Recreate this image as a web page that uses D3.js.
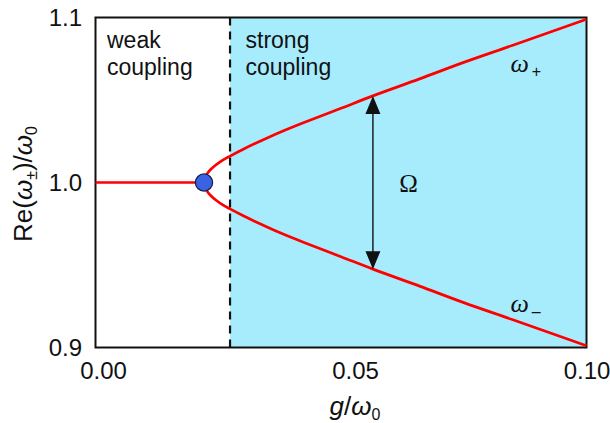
<!DOCTYPE html>
<html>
<head>
<meta charset="utf-8">
<script src="https://cdn.jsdelivr.net/npm/d3@7"></script>
<style>
  html, body { margin: 0; padding: 0; background: #fff; }
  svg { display: block; }
  text { font-family: "Liberation Sans", Arial, Helvetica, sans-serif; fill: #111; }
</style>
</head>
<body>
<svg id="chart" width="610" height="423"></svg>
<script>
// Coupling strength g/ω0 and real part of the eigenfrequencies Re(ω±)/ω0
const gWeak = [0.000, 0.0221];
const omegaWeak = [1.000, 1.000];

const gStrong    = [0.0221, 0.0223, 0.0228, 0.0235, 0.0245, 0.0260, 0.0274, 0.0300, 0.0335, 0.0376, 0.0430, 0.0500, 0.0565, 0.0660, 0.0750, 0.0850, 0.1000];
const omegaPlus  = [1.0000, 1.0030, 1.0056, 1.0080, 1.0106, 1.0137, 1.0160, 1.0200, 1.0250, 1.0305, 1.0370, 1.0450, 1.0525, 1.0628, 1.0728, 1.0832, 1.0990];
const omegaMinus = [1.0000, 0.9970, 0.9944, 0.9920, 0.9894, 0.9863, 0.9840, 0.9800, 0.9750, 0.9695, 0.9630, 0.9550, 0.9475, 0.9372, 0.9272, 0.9168, 0.9010];

// Exceptional point, weak/strong boundary and where the splitting Ω is marked
const exceptionalPoint = [0.0221, 1.000];
const strongBoundary = 0.0274;
const splittingAt = 0.0565;

const xTicks = [0.00, 0.05, 0.10];
const xTickLabels = ["0.00", "0.05", "0.10"];
const yTicks = [0.9, 1.0, 1.1];
const yTickLabels = ["0.9", "1.0", "1.1"];

const svg = d3.select("#chart");
const plot = { left: 95.5, right: 586.5, top: 17.5, bottom: 347.5 };

const x = d3.scaleLinear().domain([0, 0.10]).range([plot.left, plot.right]);
const y = d3.scaleLinear().domain([0.9, 1.1]).range([plot.bottom, plot.top]);

// Strong-coupling region
svg.append("rect")
  .attr("x", x(strongBoundary))
  .attr("y", y(1.1))
  .attr("width", x(0.10) - x(strongBoundary))
  .attr("height", y(0.9) - y(1.1))
  .attr("fill", "#a7ecfd");

// Boundary between weak and strong coupling
svg.append("line")
  .attr("x1", x(strongBoundary)).attr("x2", x(strongBoundary))
  .attr("y1", y(1.1)).attr("y2", y(0.9))
  .attr("stroke", "#111").attr("stroke-width", 2.2)
  .attr("stroke-dasharray", "8,6");

// Frame
svg.append("rect")
  .attr("x", plot.left).attr("y", plot.top)
  .attr("width", plot.right - plot.left).attr("height", plot.bottom - plot.top)
  .attr("fill", "none").attr("stroke", "#111").attr("stroke-width", 2);

// Tick labels
const xAxis = d3.axisBottom(x).tickValues(xTicks).tickSize(0)
  .tickFormat((d, i) => xTickLabels[i]);
const gx = svg.append("g").attr("transform", `translate(0,${plot.bottom})`).call(xAxis);
gx.select(".domain").remove();
const xNudge = [7.5, 14, 0];
gx.selectAll(".tick text")
  .attr("y", 31).attr("dy", 0)
  .attr("dx", (d, i) => xNudge[i])
  .style("font-size", "24px")
  .style("font-family", "Liberation Sans, Arial, sans-serif")
  .attr("fill", "#111");

const yAxis = d3.axisLeft(y).tickValues(yTicks).tickSize(0)
  .tickFormat((d, i) => yTickLabels[i]);
const gy = svg.append("g").attr("transform", `translate(${plot.left},0)`).call(yAxis);
gy.select(".domain").remove();
gy.selectAll(".tick text")
  .attr("x", -13.5).attr("dy", "0.35em")
  .style("font-size", "24px")
  .style("font-family", "Liberation Sans, Arial, sans-serif")
  .attr("fill", "#111");

// Region labels
function regionLabel(xPos, lines) {
  const t = svg.append("text").attr("x", xPos).attr("y", 48.3).style("font-size", "23px");
  lines.forEach((s, i) => t.append("tspan").attr("x", xPos).attr("dy", i ? 27 : 0).text(s));
}
regionLabel(107, ["weak", "coupling"]);
regionLabel(245.5, ["strong", "coupling"]);

// Eigenfrequency branches
const line = d3.line().x(d => x(d[0])).y(d => y(d[1]));
const weakPts = gWeak.map((g, i) => [g, omegaWeak[i]]);
const upperPts = gStrong.map((g, i) => [g, omegaPlus[i]]);
const lowerPts = gStrong.map((g, i) => [g, omegaMinus[i]]);
const branchPts = upperPts.slice().reverse().concat(lowerPts.slice(1));

svg.append("path").datum(weakPts)
  .attr("d", line)
  .attr("fill", "none").attr("stroke", "#f00").attr("stroke-width", 2.7);
svg.append("path").datum(branchPts)
  .attr("d", line.curve(d3.curveCatmullRom.alpha(0.5)))
  .attr("fill", "none").attr("stroke", "#f00").attr("stroke-width", 2.7)
  .attr("stroke-linejoin", "round");

// Exceptional point
svg.append("circle")
  .attr("cx", x(exceptionalPoint[0])).attr("cy", y(exceptionalPoint[1]))
  .attr("r", 8.6)
  .attr("fill", "#3a62e4").attr("stroke", "#14204a").attr("stroke-width", 1.3);

// Splitting arrow between the branches
const k = gStrong.indexOf(splittingAt);
const ax = x(splittingAt), aTop = y(omegaPlus[k]), aBot = y(omegaMinus[k]);
const headH = 18, headW = 7.5;
svg.append("line")
  .attr("x1", ax).attr("x2", ax)
  .attr("y1", aTop + headH - 1).attr("y2", aBot - headH + 1)
  .attr("stroke", "#111").attr("stroke-width", 1.4);
svg.append("path")
  .attr("d", `M${ax},${aTop} L${ax - headW},${aTop + headH} L${ax + headW},${aTop + headH} Z`)
  .attr("fill", "#111");
svg.append("path")
  .attr("d", `M${ax},${aBot} L${ax - headW},${aBot - headH} L${ax + headW},${aBot - headH} Z`)
  .attr("fill", "#111");

// Symbols
svg.append("text")
  .attr("x", 408.5).attr("y", 192).attr("text-anchor", "middle")
  .style("font-family", "Liberation Serif, Times New Roman, serif")
  .style("font-size", "25px").text("Ω");

function omegaLabel(xPos, yPos, sub) {
  const t = svg.append("text").attr("x", xPos).attr("y", yPos)
    .style("font-family", "Liberation Serif, Times New Roman, serif")
    .style("font-size", "26px");
  t.append("tspan").style("font-style", "italic").text("ω");
  t.append("tspan").attr("dx", 3).attr("dy", 5).style("font-size", "16px")
    .style("font-family", "Liberation Sans, Arial, sans-serif").text(sub);
}
omegaLabel(510.5, 72, "+");
omegaLabel(510.5, 312, "–");

// Axis titles
const xt = svg.append("text")
  .attr("x", 355).attr("y", 415).attr("text-anchor", "middle")
  .style("font-size", "26px");
xt.append("tspan").style("font-style", "italic").text("g");
xt.append("tspan").text("/");
xt.append("tspan").style("font-style", "italic").text("ω");
xt.append("tspan").attr("dy", 5).style("font-size", "16px").text("0");

const yt = svg.append("text")
  .attr("transform", "translate(32,184) rotate(-90)")
  .attr("text-anchor", "middle")
  .style("font-size", "26px");
yt.append("tspan").text("Re(");
yt.append("tspan").style("font-style", "italic").text("ω");
yt.append("tspan").attr("dy", 5).style("font-size", "16px").text("±");
yt.append("tspan").attr("dy", -5).text(")/");
yt.append("tspan").style("font-style", "italic").text("ω");
yt.append("tspan").attr("dy", 5).style("font-size", "16px").text("0");
</script>
</body>
</html>
